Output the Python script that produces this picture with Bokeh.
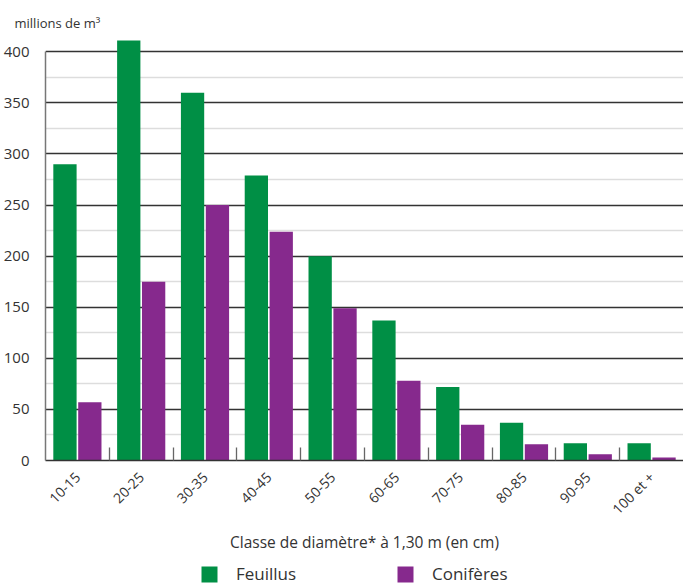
from math import pi
from bokeh.plotting import figure
from bokeh.layouts import column
from bokeh.models import ColumnDataSource, FixedTicker, Range1d, Legend, LegendItem
from bokeh.transform import dodge
from bokeh.embed import file_html
from bokeh.resources import INLINE

categories = ["10-15", "20-25", "30-35", "40-45", "50-55", "60-65", "70-75", "80-85", "90-95", "100 et +"]
feuillus = [290, 411, 360, 279, 200, 137, 72, 37, 17, 17]
coniferes = [57, 175, 250, 224, 149, 78, 35, 16, 6, 3]
series_names = ["Feuillus", "Conifères"]
y_ticks = [0, 50, 100, 150, 200, 250, 300, 350, 400]

GREEN = "#008F45"
PURPLE = "#86298D"
FONT = "Open Sans"
TXT = "#333333"

xs = [i + 0.5 for i in range(len(categories))]
src = ColumnDataSource(dict(x=xs, feuillus=feuillus, coniferes=coniferes, cat=categories))

p = figure(width=683, height=555, output_backend="svg", toolbar_location=None,
           x_range=Range1d(0, len(categories)), y_range=Range1d(0, 415),
           min_border_left=45, min_border_right=0, min_border_top=36, min_border_bottom=95)

p.vbar(x=dodge("x", -0.195, range=p.x_range), top="feuillus", width=0.365, source=src,
       color=GREEN, line_color=None)
p.vbar(x=dodge("x", 0.195, range=p.x_range), top="coniferes", width=0.365, source=src,
       color=PURPLE, line_color=None)

p.outline_line_color = None
p.xgrid.grid_line_color = None

# y axis
p.yaxis.ticker = FixedTicker(ticks=y_ticks, minor_ticks=[t + 25 for t in y_ticks[:-1]])
p.yaxis.bounds = (0, 400)
p.yaxis.major_tick_line_color = None
p.yaxis.minor_tick_line_color = None
p.yaxis.axis_line_color = "#777777"
p.yaxis.axis_line_width = 1.5
p.yaxis.major_label_text_font = FONT
p.yaxis.major_label_text_font_size = "15px"
p.yaxis.major_label_text_color = TXT
p.yaxis.major_label_standoff = 10
p.ygrid.grid_line_color = "#333333"
p.ygrid.grid_line_width = 1.3
p.ygrid.minor_grid_line_color = "#dddddd"
p.ygrid.minor_grid_line_width = 1.3

# x axis
p.xaxis.ticker = FixedTicker(ticks=xs, minor_ticks=list(range(1, len(categories))))
p.xaxis.major_label_overrides = {x: c for x, c in zip(xs, categories)}
p.xaxis.major_tick_line_color = None
p.xaxis.minor_tick_in = 13
p.xaxis.minor_tick_out = 0
p.xaxis.minor_tick_line_color = "#666666"
p.xaxis.minor_tick_line_width = 1.3
p.xaxis.axis_line_color = "#333333"
p.xaxis.axis_line_width = 1.5
p.xaxis.major_label_orientation = pi / 4
p.xaxis.major_label_text_font = FONT
p.xaxis.major_label_text_font_size = "14px"
p.xaxis.major_label_text_color = TXT
p.xaxis.major_label_standoff = 8
p.xaxis.axis_label = "Classe de diamètre* à 1,30 m (en cm)"
p.xaxis.axis_label_text_font = FONT
p.xaxis.axis_label_text_font_size = "15.5px"
p.xaxis.axis_label_text_font_style = "normal"
p.xaxis.axis_label_text_color = TXT
p.xaxis.axis_label_standoff = 3

# title
p.title.text = "millions de m³"
p.title.text_font = FONT
p.title.text_font_size = "13px"
p.title.text_font_style = "normal"
p.title.text_color = TXT
p.title.align = "left"
p.title.offset = -31

# legend strip (zero-width glyphs carry the series colours for the legend only)
lg = figure(width=683, height=30, output_backend="svg", toolbar_location=None,
            x_range=Range1d(0, len(categories)), y_range=Range1d(-200, -100),
            x_axis_location=None, y_axis_location=None, min_border=0)
lg.outline_line_color = None
lg.grid.grid_line_color = None
g1 = lg.vbar(x="x", top="feuillus", width=0, source=src, color=GREEN, line_color=None)
g2 = lg.vbar(x="x", top="coniferes", width=0, source=src, color=PURPLE, line_color=None)
legend = Legend(items=[LegendItem(label=series_names[0], renderers=[g1]),
                       LegendItem(label=series_names[1], renderers=[g2])],
                orientation="horizontal", location=(154, 0),
                glyph_width=20, glyph_height=20, label_standoff=17, label_width=97,
                spacing=62, padding=0, margin=0, border_line_color=None,
                background_fill_alpha=0,
                label_text_font=FONT, label_text_font_size="17px", label_text_color=TXT)
lg.add_layout(legend, "center")

layout = column(p, lg, spacing=0)
open("out.html", "w").write(file_html(layout, INLINE))
